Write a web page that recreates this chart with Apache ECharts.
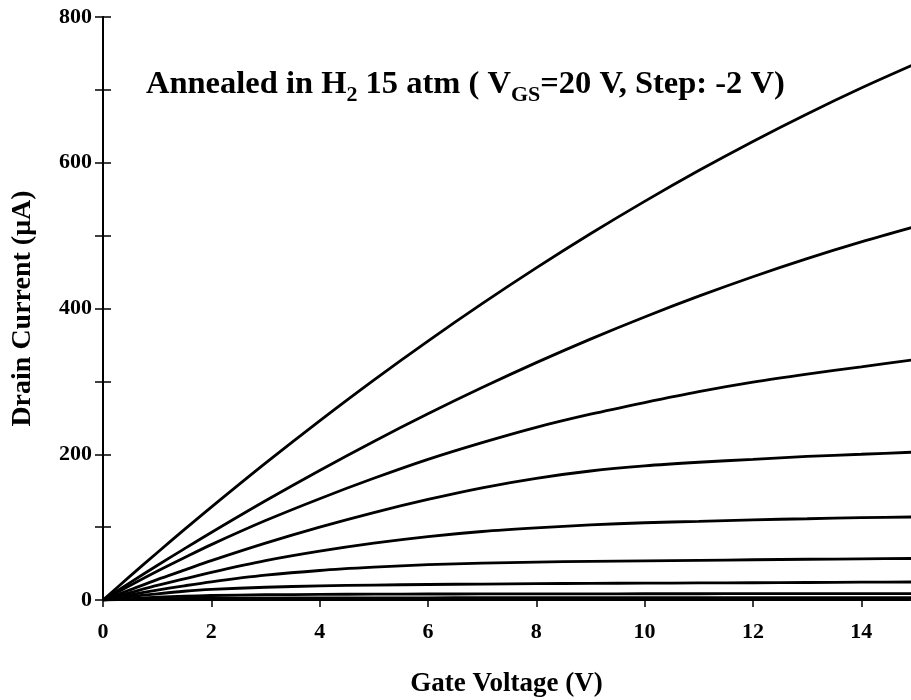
<!DOCTYPE html>
<html><head><meta charset="utf-8">
<script src="https://cdn.jsdelivr.net/npm/echarts@6/dist/echarts.min.js"></script>
<style>html,body{margin:0;padding:0;background:#fff}#c{width:911px;height:700px}</style>
</head><body><div id="c"></div>
<script>
var vds = [0,0.5,1,1.5,2,3,4,5,6,7,8,9,10,11,12,13,14,15];
var id20 = [0,32.7,64.9,96.5,127.5,187.8,245.9,301.8,355.3,406.6,455.7,502.5,547,589.3,629.3,667,702.5,735.7];
var id18 = [0,23.9,47.3,70.2,92.7,136.2,177.8,217.6,255.5,291.5,325.7,358,388.4,416.9,443.6,468.4,491.3,512.4];
var id16 = [0,20,39.5,58,76,109,139,167,193,216,237,255,271,286,299,310,320,330];
var id14 = [0,14,28,41,54,78,100,120,138,154,167,177,184,189,193,197,200,203];
var id12 = [0,10,20,29,38,54,67,78,87,94,99,103,106,108,110,111.5,113,114];
var id10 = [0,7,13.5,19.5,25,34,40.5,45,48.5,50.5,52,53,53.8,54.5,55.2,55.9,56.5,57];
var id8 = [0,4.5,8.5,12,14.5,17.5,19.3,20.5,21.3,21.9,22.4,22.8,23.1,23.4,23.7,24,24.4,24.7];
var id6 = [0,2,3.8,5.2,6.2,7.2,7.7,8,8.2,8.3,8.4,8.5,8.55,8.6,8.65,8.7,8.75,8.8];
var id4 = [0,0.9,1.6,2.1,2.4,2.7,2.9,3,3.05,3.1,3.12,3.15,3.18,3.2,3.23,3.25,3.28,3.3];
var curves = [id20,id18,id16,id14,id12,id10,id8,id6,id4];
var xTicks = [0,2,4,6,8,10,12,14];
var yTicks = [0,200,400,600,800];

var FONT = '"Liberation Serif", "Times New Roman", serif';
function pairs(arr){ return vds.map(function(v,i){ return [v, arr[i]]; }); }
var series = curves.map(function(c){
  return {type:'line', data:pairs(c), smooth:0.3, symbol:'none',
    lineStyle:{color:'#000', width:2.8}, clip:true, silent:true};
});
var lab = {fontFamily:FONT, fontWeight:'bold', fontSize:22, color:'#000'};
var chart = echarts.init(document.getElementById('c'), null, {renderer:'canvas'});
chart.setOption({
  animation:false,
  backgroundColor:'#fff',
  grid:{left:103, right:1, top:17, bottom:100, containLabel:false, outerBoundsMode:'none'},
  xAxis:[{type:'value', min:0, max:14.9, interval:2, position:'bottom',
    axisLine:{lineStyle:{color:'#000', width:2}, onZero:false},
    axisTick:{inside:false, length:7, lineStyle:{color:'#000', width:1.5}},
    axisLabel:Object.assign({margin:21, showMaxLabel:false, formatter:function(v){return xTicks.indexOf(v)>=0? String(v):'';}}, lab),
    splitLine:{show:false},
    name:'Gate Voltage (V)', nameLocation:'middle', nameGap:71,
    nameTextStyle:{fontFamily:FONT, fontWeight:'bold', fontSize:27, color:'#000'}
  },{type:'value', min:0, max:14.9, interval:2, position:'top',
    axisLine:{lineStyle:{color:'#000', width:2}}, axisTick:{show:false}, axisLabel:{show:false}, splitLine:{show:false}}],
  yAxis:[{type:'value', min:0, max:800, interval:200, position:'left',
    axisLine:{lineStyle:{color:'#000', width:2}, onZero:false},
    axisTick:{inside:true, length:8, lineStyle:{color:'#000', width:1.5}},
    minorTick:{show:true, splitNumber:2, length:8, lineStyle:{color:'#000', width:1.5}},
    axisLabel:Object.assign({margin:11, formatter:function(v){return yTicks.indexOf(v)>=0? String(v):'';}}, lab),
    splitLine:{show:false},
    name:'Drain Current (\u03bcA)', nameLocation:'middle', nameGap:66, nameRotate:90,
    nameTextStyle:{fontFamily:FONT, fontWeight:'bold', fontSize:28, color:'#000'}
  },{type:'value', min:0, max:800, interval:200, position:'right',
    axisLine:{lineStyle:{color:'#000', width:2}},
    axisTick:{inside:true, length:8, lineStyle:{color:'#000', width:1.5}},
    minorTick:{show:true, splitNumber:2, length:8, lineStyle:{color:'#000', width:1.5}},
    axisLabel:{show:false}, splitLine:{show:false}}],
  graphic:[{type:'text', left:146, top:68, silent:true,
    style:{text:'{a|Annealed in H}{s|2}{a| 15 atm ( V}{s|GS}{a|=20 V, Step: -2 V)}',
      rich:{a:{fontFamily:FONT, fontWeight:'bold', fontSize:32.5, lineHeight:32, verticalAlign:'top', fill:'#000'},
            s:{fontFamily:FONT, fontWeight:'bold', fontSize:22, lineHeight:22, padding:[16,0,0,0], verticalAlign:'top', fill:'#000'}}}}],
  series:series
});
</script></body></html>
